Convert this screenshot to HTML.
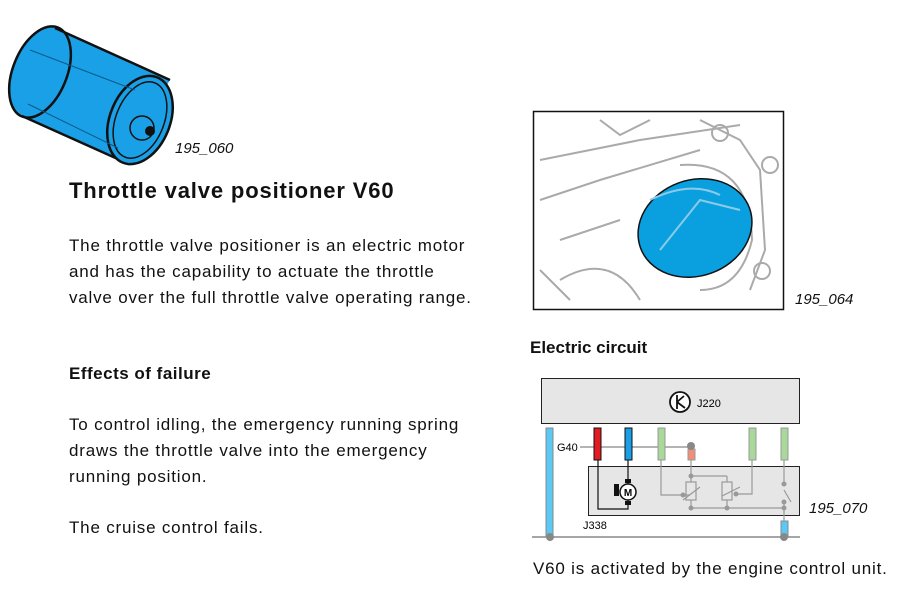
<!DOCTYPE html>
<html><head><meta charset="utf-8"><style>
body{margin:0;width:921px;height:607px;background:#fff;position:relative;overflow:hidden;font-family:"Liberation Sans",sans-serif;color:#111}
.t{position:absolute;white-space:nowrap}
.b{font-size:17px;line-height:26px;letter-spacing:0.8px}
.cap{font-style:italic;font-size:15px}
</style></head><body>
<svg width="921" height="607" style="position:absolute;left:0;top:0">
<g stroke="#111" stroke-width="2.5" fill="#1aa0e6">
<path d="M55,28 L170,80 L120,160 L22,116 Z" stroke="none"/>
<ellipse cx="40" cy="72" rx="27" ry="48" transform="rotate(22 40 72)"/>
<path d="M55,28 L170,80 M22,116 L120,160" fill="none"/>
<ellipse cx="140" cy="120" rx="30" ry="46" transform="rotate(22 140 120)"/>
</g>
<ellipse cx="140" cy="120" rx="24" ry="40" transform="rotate(22 140 120)" fill="none" stroke="#111" stroke-width="1.5"/>
<path d="M30,50 L135,90 M28,104 L118,148" stroke="#0a5a8a" stroke-width="1" fill="none"/>
<g fill="#1aa0e6" stroke="#111" stroke-width="1.5"><circle cx="142" cy="128" r="12"/></g>
<circle cx="150" cy="131" r="5" fill="#111"/>
<rect x="533.5" y="111.5" width="250" height="198" fill="#fff" stroke="#111" stroke-width="1.5"/>
<g stroke="#aaa" stroke-width="2" fill="none">
<path d="M540,160 L640,140 L740,125 M540,200 L600,180 L700,150 M560,240 L620,220 M540,270 L570,300 M700,120 L740,140 L760,170 L765,250 L750,290 M600,120 L620,135 L650,120"/>
<circle cx="720" cy="133" r="8"/><circle cx="770" cy="165" r="8"/><circle cx="762" cy="271" r="8"/>
<path d="M560,280 Q610,250 640,300"/>
<path d="M680,165 Q750,160 752,240 Q740,290 700,290"/>
</g>
<ellipse cx="695" cy="228" rx="58" ry="48" transform="rotate(-20 695 228)" fill="#0aa0e0" stroke="#111" stroke-width="1.5"/>
<path d="M660,250 L700,200 L740,210 M650,200 Q690,180 720,195" stroke="#8ccbe8" stroke-width="2" fill="none"/>
<rect x="541.5" y="378.5" width="258" height="45" fill="#e6e6e6" stroke="#222"/>
<circle cx="680" cy="402" r="10" fill="#fff" stroke="#111" stroke-width="1.8"/>
<path d="M677,395 V409 M677,402 L684,396 M677,402 L685,408" stroke="#111" stroke-width="1.8" fill="none"/>
<rect x="588.5" y="466.5" width="211" height="49" fill="#e6e6e6" stroke="#222"/>
<line x1="532" y1="537" x2="800" y2="537" stroke="#888" stroke-width="1.5"/>
<line x1="580" y1="447" x2="691" y2="447" stroke="#888" stroke-width="1.2"/>
<rect x="546" y="428" width="7" height="109" fill="#5bc8f5" stroke="#888"/>
<circle cx="550" cy="537" r="4" fill="#888"/>
<rect x="594" y="428" width="7" height="32" fill="#e31b23" stroke="#111"/>
<rect x="625" y="428" width="7" height="32" fill="#1a9ee6" stroke="#111"/>
<rect x="658" y="428" width="7" height="32" fill="#a8d89a" stroke="#999"/>
<rect x="749" y="428" width="7" height="32" fill="#a8d89a" stroke="#999"/>
<rect x="781" y="428" width="7" height="32" fill="#a8d89a" stroke="#999"/>
<rect x="688" y="449" width="7" height="11" fill="#f08f78" stroke="#999"/>
<circle cx="691" cy="446" r="4" fill="#888"/>
<rect x="781" y="521" width="7" height="16" fill="#5bc8f5" stroke="#888"/>
<circle cx="784" cy="537" r="4" fill="#888"/>
<path d="M598,460 V509 H628 V460" stroke="#111" stroke-width="1.2" fill="none"/>
<rect x="625" y="479" width="6" height="4" fill="#111"/><rect x="625" y="501" width="6" height="4" fill="#111"/>
<circle cx="628" cy="492" r="8" fill="#fff" stroke="#111" stroke-width="1.5"/>
<text x="628" y="496" font-size="10" font-weight="bold" text-anchor="middle" font-family="Liberation Sans">M</text>
<rect x="614" y="484" width="5" height="12" fill="#111"/>
<g stroke="#999" stroke-width="1.2" fill="none">
<path d="M661,460 V495 H690 M691,460 V476 H727 M691,476 V482 M691,500 V508 M727,476 V482 M727,500 V508 M690,508 H784 M752,460 V494 H736 M784,460 V482 M784,490 L791,502 M784,502 V521"/>
<rect x="686" y="482" width="10" height="18"/><rect x="722" y="482" width="10" height="18"/>
<path d="M683,500 L700,487 M740,487 L722,496"/>
</g>
<g fill="#999"><circle cx="691" cy="476" r="2.5"/><circle cx="691" cy="508" r="2.5"/><circle cx="727" cy="508" r="2.5"/><circle cx="784" cy="508" r="2.5"/><circle cx="784" cy="502" r="2.5"/><circle cx="784" cy="484" r="2.5"/><circle cx="683" cy="495" r="2.5"/><circle cx="736" cy="494" r="2.5"/></g>
<text x="557" y="451" font-size="11" font-family="Liberation Sans">G40</text>
<text x="697" y="407" font-size="11" font-family="Liberation Sans">J220</text>
<text x="583" y="529" font-size="11" font-family="Liberation Sans">J338</text>
</svg>
<div class="t cap" style="left:175px;top:140px">195_060</div>
<div class="t cap" style="left:795px;top:291px">195_064</div>
<div class="t cap" style="left:809px;top:500px">195_070</div>
<div class="t" style="left:69px;top:178px;font-size:22px;font-weight:bold;letter-spacing:0.85px">Throttle valve positioner V60</div>
<div class="t b" style="left:69px;top:233px">The throttle valve positioner is an electric motor<br>and has the capability to actuate the throttle<br>valve over the full throttle valve operating range.</div>
<div class="t" style="left:69px;top:364px;font-size:17px;font-weight:bold;letter-spacing:0.5px">Effects of failure</div>
<div class="t b" style="left:69px;top:412px">To control idling, the emergency running spring<br>draws the throttle valve into the emergency<br>running position.</div>
<div class="t b" style="left:69px;top:515px">The cruise control fails.</div>
<div class="t" style="left:530px;top:338px;font-size:17px;font-weight:bold">Electric circuit</div>
<div class="t b" style="left:533px;top:556px">V60 is activated by the engine control unit.</div>
</body></html>
